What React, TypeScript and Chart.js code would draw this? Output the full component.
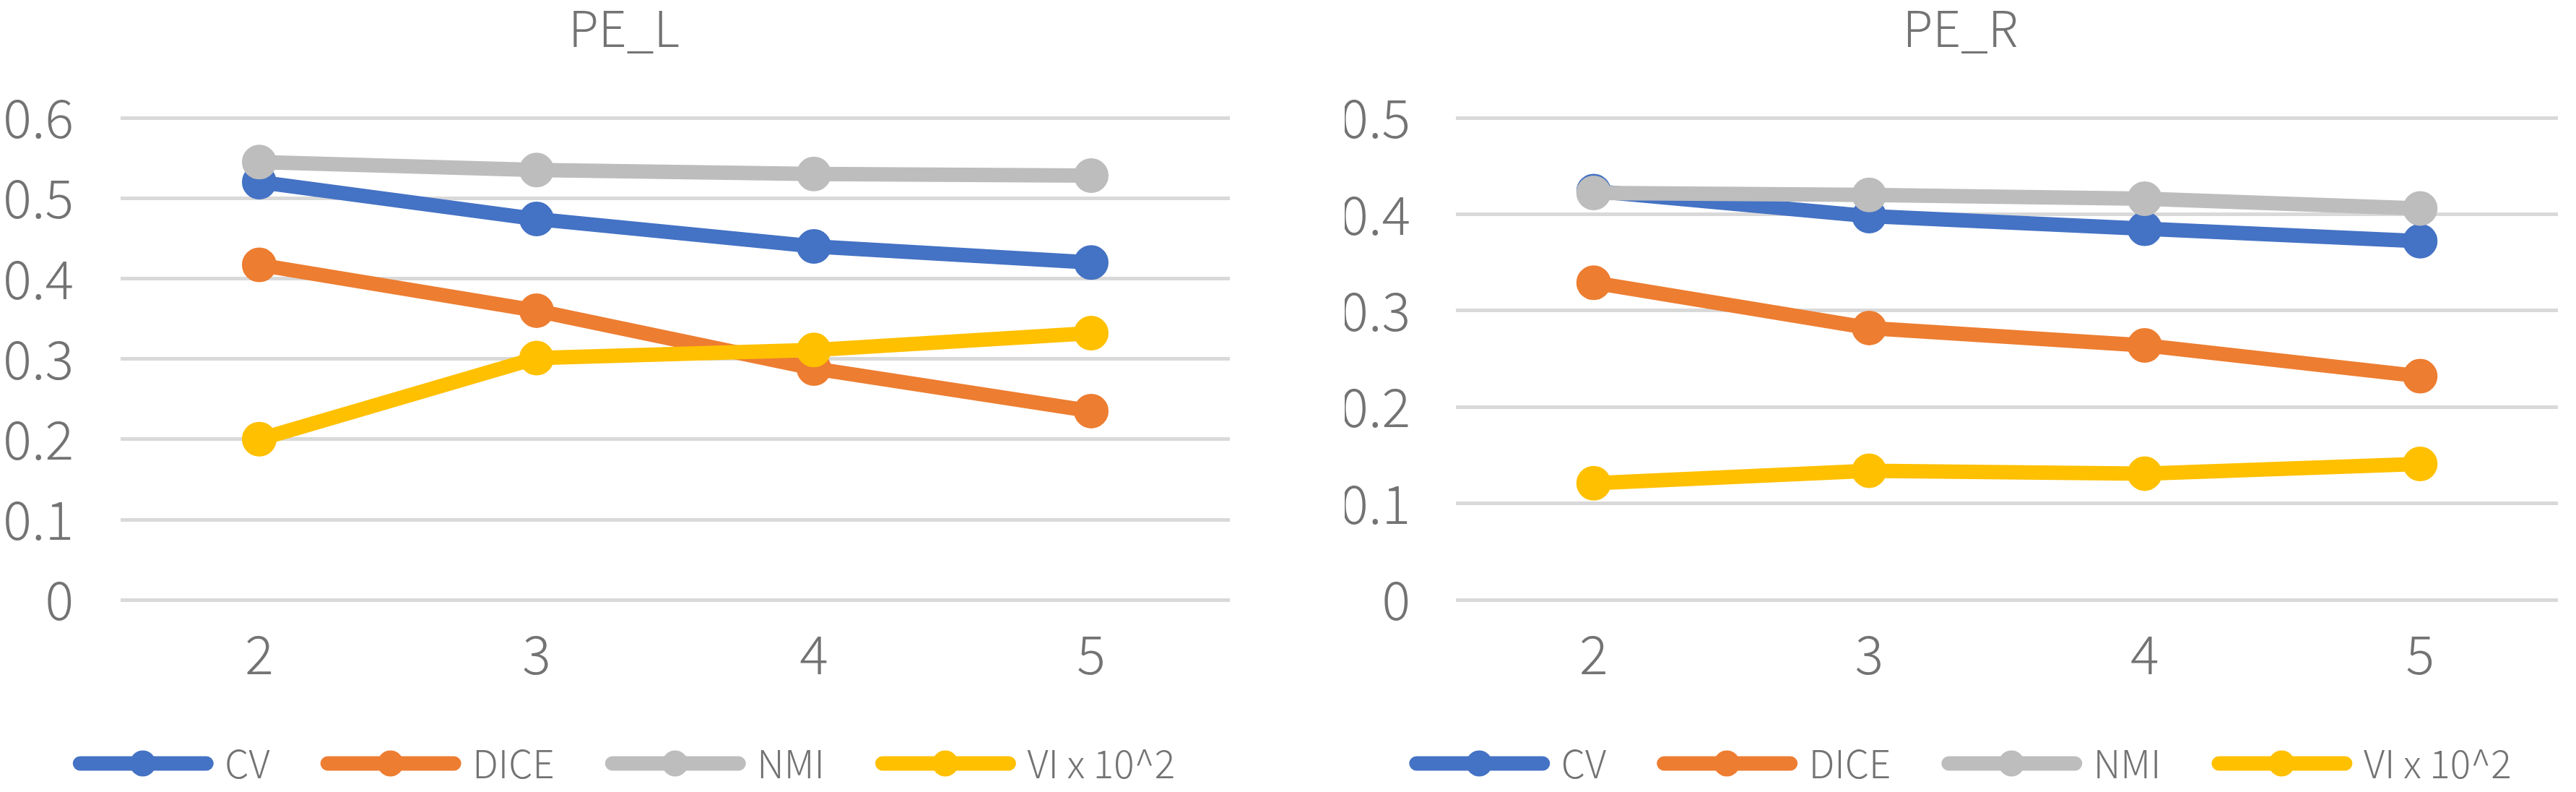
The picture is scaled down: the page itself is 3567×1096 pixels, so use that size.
import { useEffect, useRef } from "react";
import { Chart, registerables } from "chart.js";

Chart.register(...registerables);

const categories = ["2", "3", "4", "5"];
const seriesNames = ["CV", "DICE", "NMI", "VI x 10^2"];
const seriesColors = ["#4472C4", "#ED7D31", "#BDBDBD", "#FFC000"];

// PE_L panel
const leftCV = [0.52, 0.474, 0.44, 0.42];
const leftDICE = [0.417, 0.36, 0.288, 0.235];
const leftNMI = [0.545, 0.535, 0.53, 0.528];
const leftVI = [0.2, 0.301, 0.311, 0.332];

// PE_R panel
const rightCV = [0.424, 0.398, 0.385, 0.372];
const rightDICE = [0.329, 0.282, 0.264, 0.232];
const rightNMI = [0.422, 0.42, 0.416, 0.406];
const rightVI = [0.121, 0.134, 0.131, 0.141];

const FONT = '"Noto Sans CJK SC", "Noto Sans", sans-serif';
const TEXT = "#737373";

// draws the Excel style line + dot in front of each legend entry
const legendMarkers = {
  id: "legendMarkers",
  afterDraw(chart: any) {
    const legend = chart.legend;
    if (!legend || !legend.legendHitBoxes) return;
    const ctx = chart.ctx;
    legend.legendItems.forEach((item: any, i: number) => {
      const box = legend.legendHitBoxes[i];
      if (!box) return;
      const color = chart.data.datasets[item.datasetIndex].borderColor;
      const cy = box.top + box.height / 2;
      ctx.save();
      ctx.strokeStyle = color;
      ctx.fillStyle = color;
      ctx.lineWidth = 20;
      ctx.lineCap = "round";
      ctx.beginPath();
      ctx.moveTo(box.left + 10, cy);
      ctx.lineTo(box.left + 185, cy);
      ctx.stroke();
      ctx.beginPath();
      ctx.arc(box.left + 97, cy, 18, 0, Math.PI * 2);
      ctx.fill();
      ctx.restore();
    });
  },
};

interface PanelProps {
  title: string;
  series: number[][];
  yMax: number;
  axisWidth: number;
  tickPad: number;
}

const Panel: React.FC<PanelProps> = ({ title, series, yMax, axisWidth, tickPad }) => {
  const canvasRef = useRef<HTMLCanvasElement>(null);
  const chartRef = useRef<Chart | null>(null);

  useEffect(() => {
    if (!canvasRef.current) return;
    const ctx = canvasRef.current.getContext("2d");
    if (!ctx) return;
    if (chartRef.current) chartRef.current.destroy();

    chartRef.current = new Chart(ctx, {
      type: "line",
      data: {
        labels: categories,
        datasets: series.map((data, i) => ({
          label: seriesNames[i],
          data,
          borderColor: seriesColors[i],
          backgroundColor: seriesColors[i],
          borderWidth: 20,
          borderJoinStyle: "round",
          borderCapStyle: "round",
          pointRadius: 23,
          pointBorderWidth: 2,
          pointBackgroundColor: seriesColors[i],
          pointBorderColor: seriesColors[i],
          tension: 0,
          order: series.length - 1 - i,
        })),
      },
      options: {
        animation: false,
        responsive: true,
        maintainAspectRatio: false,
        layout: { padding: { left: 0, right: 0, top: 0, bottom: 3 } },
        plugins: {
          title: {
            display: true,
            text: title,
            color: TEXT,
            font: { family: FONT, size: 68, weight: 300, lineHeight: 1 },
            padding: { top: 5, bottom: 90 },
          },
          legend: {
            position: "bottom",
            labels: {
              color: TEXT,
              font: { family: FONT, size: 53, weight: 300 },
              boxWidth: 184,
              boxHeight: 20,
              padding: 70,
              generateLabels: (chart: any) =>
                Chart.defaults.plugins.legend.labels
                  .generateLabels(chart)
                  .map((item: any) => ({
                    ...item,
                    fillStyle: "rgba(0,0,0,0)",
                    strokeStyle: "rgba(0,0,0,0)",
                    lineWidth: 0,
                  }))
                  .sort((a: any, b: any) => a.datasetIndex - b.datasetIndex),
            },
          },
          tooltip: { enabled: false },
        },
        scales: {
          x: {
            offset: true,
            afterFit: (axis: any) => {
              axis.height -= 19;
            },
            grid: { display: false, drawTicks: false },
            border: { display: false },
            ticks: {
              color: TEXT,
              padding: 30,
              font: { family: FONT, size: 74, weight: 300 },
            },
          },
          y: {
            min: 0,
            max: yMax,
            afterFit: (axis: any) => {
              axis.width = axisWidth;
            },
            grid: { color: "#D9D9D9", lineWidth: 5, drawTicks: false },
            border: { display: false },
            ticks: {
              stepSize: 0.1,
              color: TEXT,
              padding: tickPad,
              font: { family: FONT, size: 74, weight: 300 },
              callback: (v: any) => (Number(v) === 0 ? "0" : Number(v).toFixed(1)),
            },
          },
        },
      },
      plugins: [legendMarkers],
    } as any);

    return () => {
      if (chartRef.current) {
        chartRef.current.destroy();
        chartRef.current = null;
      }
    };
  }, [title, series, yMax, axisWidth, tickPad]);

  return <canvas ref={canvasRef}></canvas>;
};

const leftSeries = [leftCV, leftDICE, leftNMI, leftVI];
const rightSeries = [rightCV, rightDICE, rightNMI, rightVI];

export default function App() {
  useEffect(() => {
    document.body.style.margin = "0";
    document.body.style.overflow = "hidden";
    document.body.style.background = "#ffffff";
  }, []);

  return (
    <div style={{ position: "relative", width: 3567, height: 1096, background: "#fff" }}>
      <div style={{ position: "absolute", left: 0, top: 0, width: 1728, height: 1096 }}>
        <Panel title="PE_L" series={leftSeries} yMax={0.6} axisWidth={167} tickPad={65} />
      </div>
      <div style={{ position: "absolute", left: 1862, top: 0, width: 1705, height: 1096 }}>
        <Panel title="PE_R" series={rightSeries} yMax={0.5} axisWidth={154} tickPad={63} />
      </div>
    </div>
  );
}
